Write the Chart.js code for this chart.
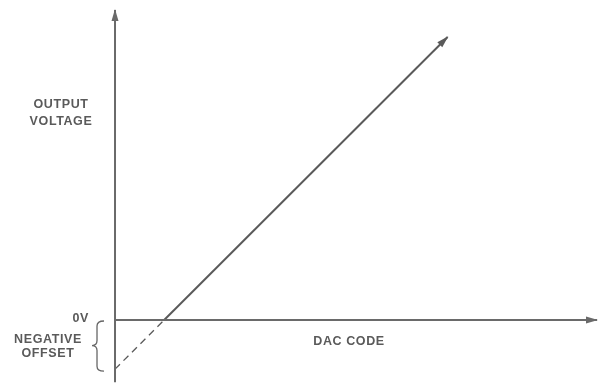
<!DOCTYPE html>
<html>
<head>
<meta charset="utf-8">
<script src="https://cdn.jsdelivr.net/npm/chart.js@4.4.1/dist/chart.umd.min.js"></script>
<style>
  html, body { margin: 0; padding: 0; background: #fff; }
  canvas { display: block; }
</style>
</head>
<body>
<canvas id="chart" width="603" height="385"></canvas>
<script>
// DAC transfer curve with negative offset (arbitrary units)
const offsetCodes = [0, 10.2];
const offsetVolts = [-10.2, 0];
const outputCodes = [10.2, 69];
const outputVolts = [0, 58.7];

// axis extents
const xAxisCodes = [0, 100];
const xAxisVolts = [0, 0];
const yAxisCodes = [0, 0];
const yAxisVolts = [-12.9, 64.3];

const LINE = '#5a5a5a';
const AXIS = '#6a6a6a';
const TEXT = '#5a5a5a';
const FONT = 'bold 12.5px "Liberation Sans", Arial, sans-serif';

const pts = (xs, ys) => xs.map((x, i) => ({ x: x, y: ys[i] }));

function arrow(ctx, x0, y0, x1, y1, color) {
  const a = Math.atan2(y1 - y0, x1 - x0);
  const len = 11, half = 3.5;
  ctx.save();
  ctx.fillStyle = color;
  ctx.translate(x1, y1);
  ctx.rotate(a);
  ctx.beginPath();
  ctx.moveTo(1, 0);
  ctx.lineTo(-len, -half);
  ctx.lineTo(-len, half);
  ctx.closePath();
  ctx.fill();
  ctx.restore();
}

const annotations = {
  id: 'annotations',
  afterDatasetsDraw(chart) {
    const ctx = chart.ctx;
    const sx = chart.scales.x, sy = chart.scales.y;
    const px = v => sx.getPixelForValue(v);
    const py = v => sy.getPixelForValue(v);

    // arrowheads
    arrow(ctx, px(0), py(0), px(xAxisCodes[1]), py(0), AXIS);
    arrow(ctx, px(0), py(0), px(0), py(yAxisVolts[1]), AXIS);
    arrow(ctx, px(outputCodes[0]), py(outputVolts[0]), px(outputCodes[1]), py(outputVolts[1]), LINE);

    const ax = px(0), zero = py(0), low = py(offsetVolts[0]);

    // brace for the negative offset
    ctx.save();
    ctx.strokeStyle = '#666';
    ctx.lineWidth = 1.3;
    const bx = ax - 18, mid = (zero + low) / 2 + 1, r = 5;
    ctx.beginPath();
    ctx.moveTo(bx + r + 2, zero + 1);
    ctx.quadraticCurveTo(bx, zero + 1, bx, zero + 1 + r);
    ctx.lineTo(bx, mid - r);
    ctx.quadraticCurveTo(bx, mid, bx - r, mid);
    ctx.quadraticCurveTo(bx, mid, bx, mid + r);
    ctx.lineTo(bx, low + 2 - r);
    ctx.quadraticCurveTo(bx, low + 2, bx + r + 2, low + 2);
    ctx.stroke();
    ctx.restore();

    // labels
    ctx.save();
    ctx.fillStyle = TEXT;
    ctx.font = FONT;
    ctx.letterSpacing = '0.6px';
    ctx.textBaseline = 'middle';
    ctx.textAlign = 'right';
    ctx.fillText('0V', ax - 26, zero - 1);
    ctx.textAlign = 'center';
    ctx.fillText('NEGATIVE', 48, zero + 20);
    ctx.fillText('OFFSET', 48, zero + 34);
    ctx.fillText('OUTPUT', 61, py(44.6));
    ctx.fillText('VOLTAGE', 61, py(41.2));
    ctx.fillText('DAC CODE', 349, zero + 22);
    ctx.restore();
  }
};

new Chart(document.getElementById('chart'), {
  type: 'scatter',
  data: {
    datasets: [
      { data: pts(xAxisCodes, xAxisVolts), showLine: true, borderColor: AXIS, borderWidth: 2, pointRadius: 0 },
      { data: pts(yAxisCodes, yAxisVolts), showLine: true, borderColor: AXIS, borderWidth: 2, pointRadius: 0 },
      { data: pts(offsetCodes, offsetVolts), showLine: true, borderColor: LINE, borderWidth: 1.3, borderDash: [7, 5], pointRadius: 0 },
      { data: pts(outputCodes, outputVolts), showLine: true, borderColor: LINE, borderWidth: 2, pointRadius: 0 }
    ]
  },
  options: {
    responsive: false,
    animation: false,
    layout: { padding: 0 },
    plugins: { legend: { display: false }, tooltip: { enabled: false } },
    scales: {
      x: { type: 'linear', display: false, min: -23.86, max: 101.24 },
      y: { type: 'linear', display: false, min: -13.49, max: 66.39 }
    }
  },
  plugins: [annotations]
});
</script>
</body>
</html>
